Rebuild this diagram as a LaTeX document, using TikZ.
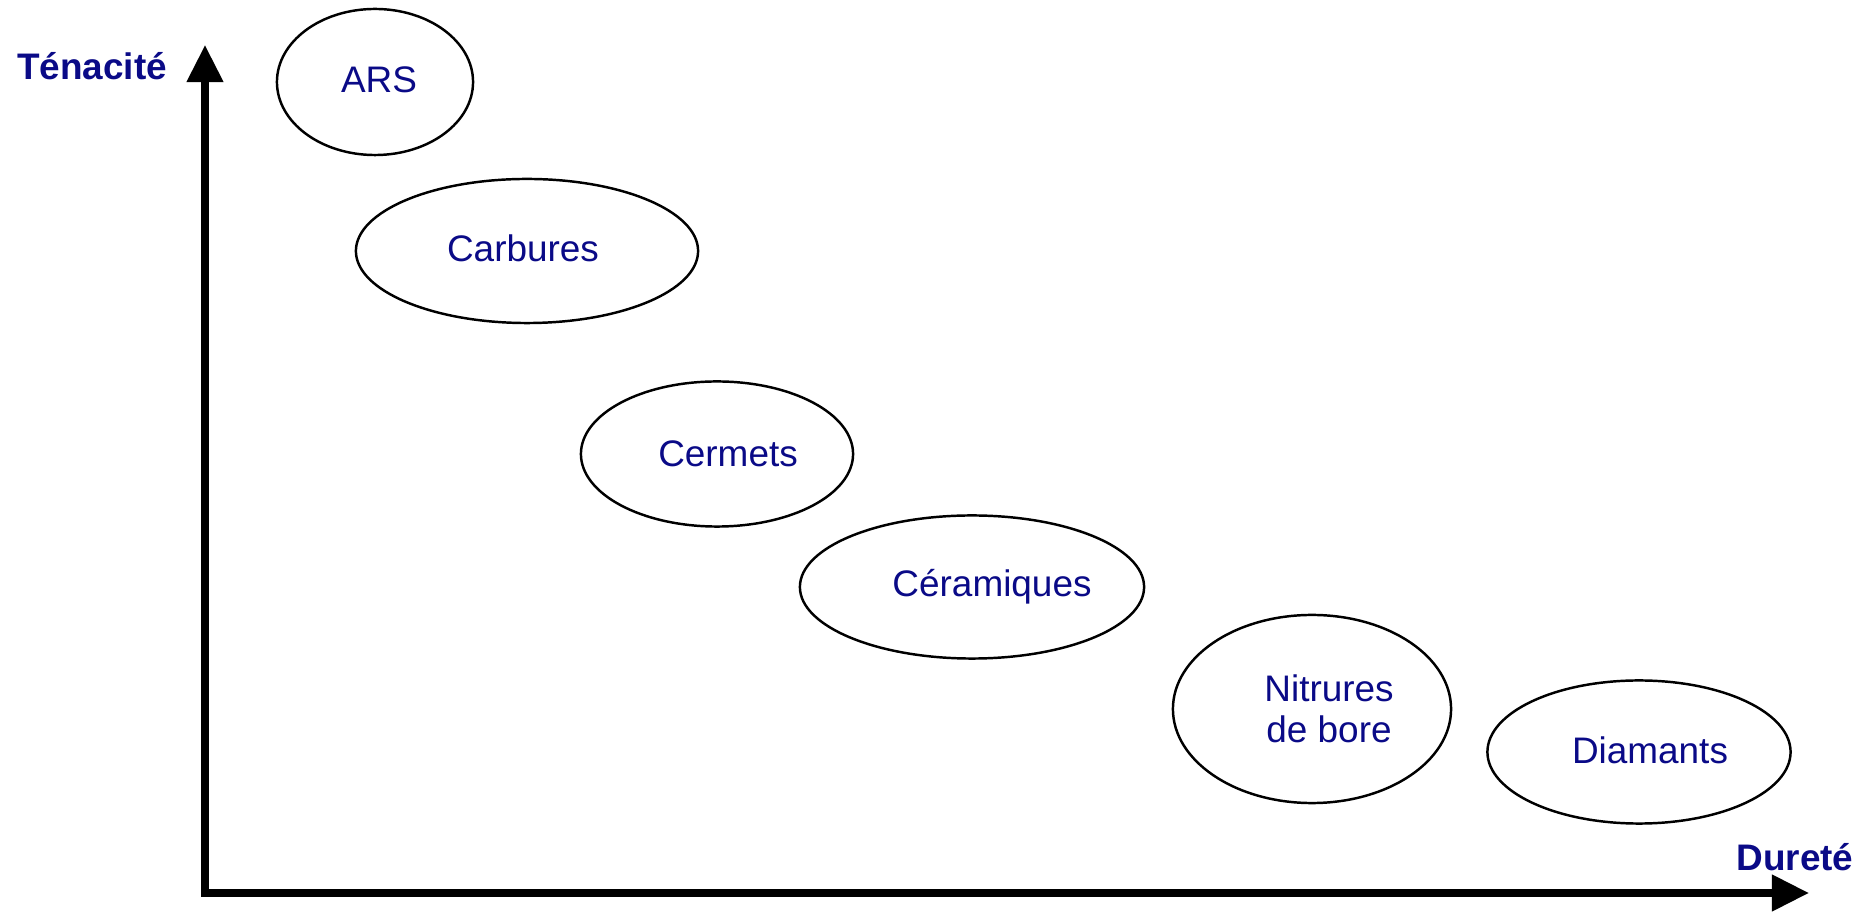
\documentclass[tikz,border=0pt]{standalone}
\usepackage{fontspec}
\setmainfont{Liberation Sans}
\usetikzlibrary{shapes.geometric, positioning, arrows.meta}
\definecolor{labelblue}{RGB}{10,10,135}

\begin{document}
\begin{tikzpicture}[
    x=0.01cm, y=-0.01cm,
    % ellipse around each material family, text set a little off centre
    famille/.style={ellipse, draw, line width=0.7pt, inner sep=0pt},
    famtxt/.style={text=labelblue, align=center, font=\fontsize{10.5}{11.8}\selectfont},
    axe/.style={-{Triangle[length=0.37cm, width=0.35cm]}, line width=2.1pt},
    axlbl/.style={font=\fontsize{10.5}{12}\selectfont\bfseries, text=labelblue}
]
    \useasboundingbox (0,0) rectangle (1872,913);

    % --- Axes ---
    \coordinate (origine) at (205,893);
    \coordinate (haut) at (205,45);
    \coordinate (droite) at (1809,893);
    \draw[axe] ([yshift=-0.035cm]origine) -- (haut);
    \draw[axe] ([xshift=-0.035cm]origine) -- (droite);

    \node[axlbl] (tenacite) at (92,66) {Ténacité};
    \node[axlbl] (durete) at (1795,857) {Dureté};

    % --- Material families ---
    \node[famille, minimum width=1.96cm, minimum height=1.46cm,
        label={[famtxt, xshift=0.04cm, yshift=0.02cm]center:ARS}] (ars) at (375,82) {};
    \node[famille, minimum width=3.42cm, minimum height=1.44cm,
        label={[famtxt, xshift=-0.04cm, yshift=0.03cm]center:Carbures}] (carbures) at (527,251) {};
    \node[famille, minimum width=2.72cm, minimum height=1.45cm,
        label={[famtxt, xshift=0.11cm]center:Cermets}] (cermets) at (717,454) {};
    \node[famille, minimum width=3.44cm, minimum height=1.43cm,
        label={[famtxt, xshift=0.2cm]center:Céramiques}] (ceramiques) at (972,587) {};
    \node[famille, minimum width=2.78cm, minimum height=1.88cm,
        label={[famtxt, xshift=0.17cm]center:Nitrures\\de bore}] (nitrures) at (1312,709) {};
    \node[famille, minimum width=3.03cm, minimum height=1.43cm,
        label={[famtxt, xshift=0.11cm, yshift=0.02cm]center:Diamants}] (diamants) at (1639,752) {};

\end{tikzpicture}
\end{document}
